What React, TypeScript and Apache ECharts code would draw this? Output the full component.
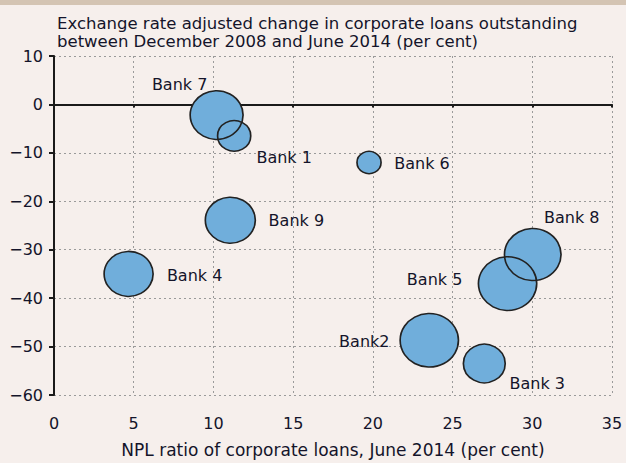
import React, { useEffect, useRef } from "react";
import * as echarts from "echarts";

const bankNames = ["Bank 7", "Bank 1", "Bank 6", "Bank 9", "Bank 4", "Bank 8", "Bank 5", "Bank2", "Bank 3"];
const nplRatio = [10.2, 11.3, 19.76, 11.06, 4.68, 30.03, 28.45, 23.54, 26.99];
const loanChange = [-2.2, -6.5, -12.0, -23.9, -35.0, -31.0, -37.0, -48.7, -53.5];
const bubbleSize = [28, 11, 5.8, 25, 24, 32, 34, 34, 17.5];
const labelOffsets: [number, number][] = [
  [-37, -31], [50, 22], [53, 1], [66, 0], [66, 2], [39, -37], [-73, -4], [-65, 1], [53, 20],
];
const xTicks = [0, 5, 10, 15, 20, 25, 30, 35];
const yTicks = [10, 0, -10, -20, -30, -40, -50, -60];

const FONT = "DejaVu Sans";
const TEXT = "#14142a";
const FS = 16;

export default function App() {
  const ref = useRef<HTMLDivElement>(null);
  useEffect(() => {
    document.body.style.margin = "0";
    const chart = echarts.init(ref.current!, null, { renderer: "svg" });
    const data = bankNames.map((n, i) => ({
      name: n,
      value: [nplRatio[i], loanChange[i], bubbleSize[i]],
      label: { offset: labelOffsets[i] },
    }));
    const sizeFn = (v: number[]) => {
      const w = Math.sqrt(v[2]) * 10;
      return [w, w * 0.92];
    };
    chart.setOption({
      animation: false,
      backgroundColor: "#f6efec",
      textStyle: { fontFamily: FONT },
      title: {
        text: "Exchange rate adjusted change in corporate loans outstanding\nbetween December 2008 and June 2014 (per cent)",
        left: 52,
        top: 9,
        textStyle: { fontFamily: FONT, fontSize: 16.5, fontWeight: "normal", color: TEXT, lineHeight: 18 },
      },
      graphic: [
        { type: "rect", shape: { x: 0, y: 0, width: 626, height: 5 }, style: { fill: "#d4c4b3" }, silent: true },
      ],
      grid: { left: 54, right: 14, top: 56, bottom: 57 },
      xAxis: [
        {
          type: "value",
          min: xTicks[0],
          max: xTicks[xTicks.length - 1],
          interval: 5,
          position: "bottom",
          axisLine: { show: false, onZero: false },
          axisTick: { show: false },
          axisLabel: { color: TEXT, fontSize: FS, fontFamily: FONT, margin: 20 },
          splitLine: { show: true, lineStyle: { color: "#9a9a9a", type: [2, 3], width: 1 } },
          name: "NPL ratio of corporate loans, June 2014 (per cent)",
          nameLocation: "middle",
          nameGap: 46,
          nameTextStyle: { color: TEXT, fontSize: 17, fontFamily: FONT },
        },
        {
          type: "value",
          min: xTicks[0],
          max: xTicks[xTicks.length - 1],
          interval: 5,
          position: "bottom",
          axisLine: { show: true, onZero: true, lineStyle: { color: "#1a1a1a", width: 2 } },
          axisTick: { show: true, inside: false, length: 3, lineStyle: { color: "#1a1a1a", width: 2 } },
          axisLabel: { show: false },
          splitLine: { show: false },
        },
      ],
      yAxis: {
        type: "value",
        min: yTicks[yTicks.length - 1],
        max: yTicks[0],
        interval: 10,
        axisLine: { show: true, lineStyle: { color: "#1a1a1a", width: 2 } },
        axisTick: { show: true, length: 5, lineStyle: { color: "#1a1a1a", width: 2 } },
        axisLabel: {
          color: TEXT,
          fontSize: FS,
          fontFamily: FONT,
          margin: 11,
          formatter: (v: number) => (v < 0 ? "\u2212" + Math.abs(v) : String(v)),
        },
        splitLine: { show: true, lineStyle: { color: "#9a9a9a", type: [2, 3], width: 1 } },
      },
      series: [
        {
          type: "scatter",
          xAxisIndex: 0,
          data,
          symbolSize: sizeFn,
          itemStyle: { color: "#70aedb", borderWidth: 0, opacity: 1 },
          label: {
            show: true,
            position: "inside",
            formatter: "{b}",
            color: TEXT,
            fontSize: FS,
            fontFamily: FONT,
          },
          z: 3,
        },
        {
          type: "scatter",
          xAxisIndex: 0,
          data: data.map((d) => ({ name: d.name, value: d.value })),
          symbolSize: sizeFn,
          itemStyle: { color: "none", borderColor: "#222222", borderWidth: 1.6, opacity: 1 },
          z: 4,
          silent: true,
        },
      ],
    });
    return () => chart.dispose();
  }, []);
  return <div ref={ref} style={{ width: 626, height: 463 }} />;
}
